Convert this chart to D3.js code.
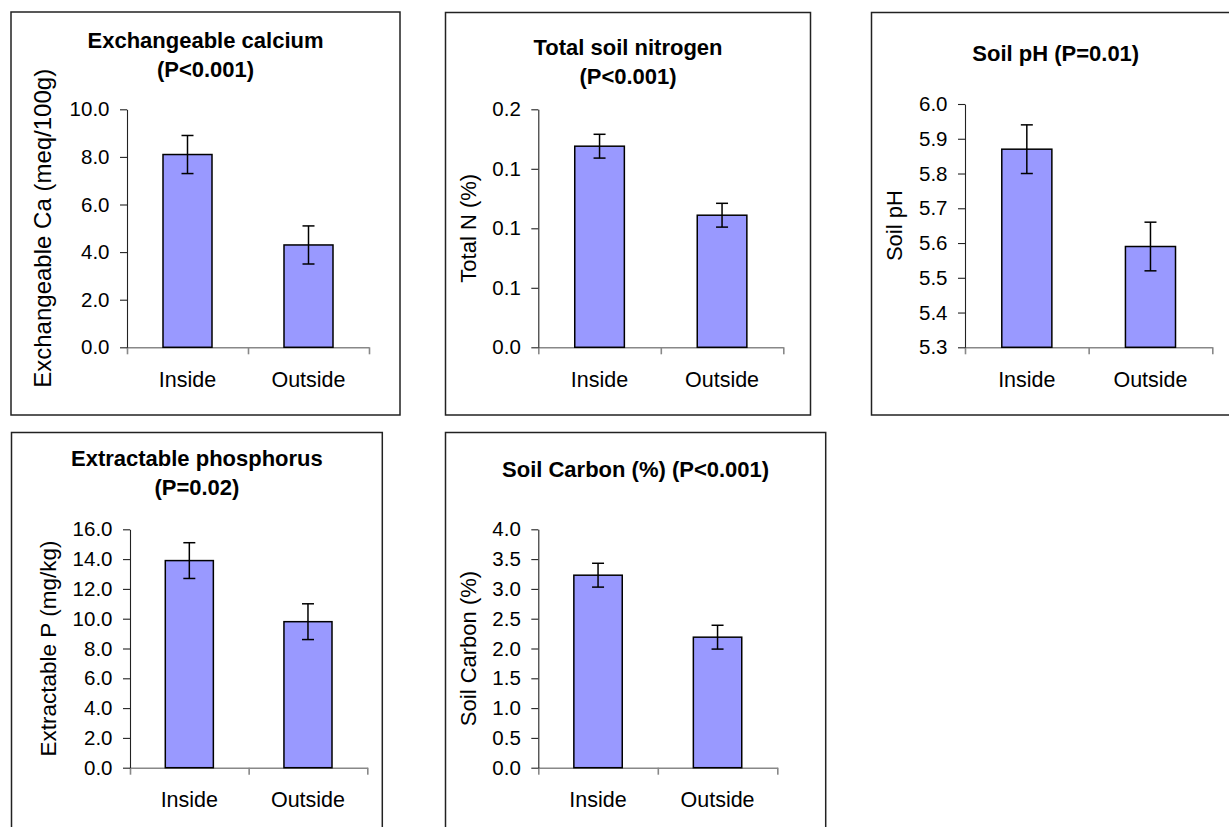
<!DOCTYPE html>
<html>
<head>
<meta charset="utf-8">
<script src="https://cdn.jsdelivr.net/npm/d3@7"></script>
<style>
  body { margin: 0; background: #fff; }
  svg text { font-family: "Liberation Sans", Arial, sans-serif; fill: #000; }
</style>
</head>
<body>
<div id="chart"></div>
<script>
// categories shared by every panel
const categories = ["Inside", "Outside"];

// Exchangeable calcium
const caTitle = ["Exchangeable calcium", "(P<0.001)"];
const caLabel = "Exchangeable Ca (meq/100g)";
const caMeans = [8.1, 4.3];
const caErrors = [0.8, 0.8];
const caTicks = [0, 2, 4, 6, 8, 10];

// Total soil nitrogen
const nTitle = ["Total soil nitrogen", "(P<0.001)"];
const nLabel = "Total N (%)";
const nMeans = [0.169, 0.111];
const nErrors = [0.01, 0.01];
const nTicks = [0, 0.05, 0.1, 0.15, 0.2];

// Soil pH
const phTitle = ["Soil pH (P=0.01)"];
const phLabel = "Soil pH";
const phMeans = [5.87, 5.59];
const phErrors = [0.07, 0.07];
const phTicks = [5.3, 5.4, 5.5, 5.6, 5.7, 5.8, 5.9, 6.0];

// Extractable phosphorus
const pTitle = ["Extractable phosphorus", "(P=0.02)"];
const pLabel = "Extractable P (mg/kg)";
const pMeans = [13.9, 9.8];
const pErrors = [1.2, 1.2];
const pTicks = [0, 2, 4, 6, 8, 10, 12, 14, 16];

// Soil carbon
const cTitle = ["Soil Carbon (%) (P<0.001)"];
const cLabel = "Soil Carbon (%)";
const cMeans = [3.23, 2.19];
const cErrors = [0.2, 0.2];
const cTicks = [0, 0.5, 1, 1.5, 2, 2.5, 3, 3.5, 4];

const width = 1229,
  height = 827;

const svg = d3
  .select("#chart")
  .append("svg")
  .attr("width", width)
  .attr("height", height);

// panel boxes: frame, plot area, title baselines, label positions
const panels = [
  { title: caTitle, label: caLabel, means: caMeans, errors: caErrors, ticks: caTicks, labelSize: 24,
    frame: [11, 12, 400, 415], plot: [127, 109.3, 369, 347.3], titleY: [48, 77], labelX: 51, catY: 387 },
  { title: nTitle, label: nLabel, means: nMeans, errors: nErrors, ticks: nTicks, labelSize: 22,
    frame: [445.5, 12.5, 810.5, 415], plot: [538.3, 109.3, 783.3, 347.3], titleY: [55, 84], labelX: 476, catY: 387 },
  { title: phTitle, label: phLabel, means: phMeans, errors: phErrors, ticks: phTicks, labelSize: 22,
    frame: [871.5, 12.5, 1240, 415], plot: [965, 104, 1212.3, 347.3], titleY: [60.5], labelX: 902, catY: 386.7 },
  { title: pTitle, label: pLabel, means: pMeans, errors: pErrors, ticks: pTicks, labelSize: 22.5,
    frame: [11.5, 432.5, 382.3, 840], plot: [130, 529.3, 367.3, 767.7], titleY: [466, 495], labelX: 55.5, catY: 806.7 },
  { title: cTitle, label: cLabel, means: cMeans, errors: cErrors, ticks: cTicks, labelSize: 22,
    frame: [445.5, 432.5, 825.7, 840], plot: [538.3, 529.3, 777.3, 767.7], titleY: [476.7], labelX: 476, catY: 806.7 }
];

panels.forEach((p) => drawPanel(svg, p));

function drawPanel(svg, p) {
  const [fx0, fy0, fx1, fy1] = p.frame;
  const [left, top, right, bottom] = p.plot;
  const g = svg.append("g");

  //frame
  g.append("rect")
    .attr("x", fx0)
    .attr("y", fy0)
    .attr("width", fx1 - fx0)
    .attr("height", fy1 - fy0)
    .attr("fill", "none")
    .attr("stroke", "#222")
    .attr("stroke-width", 1.5);

  //title
  g.selectAll(".title")
    .data(p.title)
    .enter()
    .append("text")
    .attr("x", (fx0 + fx1) / 2)
    .attr("y", (d, i) => p.titleY[i])
    .attr("text-anchor", "middle")
    .style("font-size", "22px")
    .style("font-weight", "bold")
    .text((d) => d);

  const y = d3
    .scaleLinear()
    .domain(d3.extent(p.ticks))
    .range([bottom, top]);

  const x = d3.scaleBand().domain(categories).range([left, right]);

  //edges for category ticks
  const xEdge = d3
    .scaleLinear()
    .domain([0, categories.length])
    .range([left, right]);

  //x axis line + ticks at category edges (grey)
  const xAxis = g
    .append("g")
    .attr("transform", `translate(0,${bottom})`)
    .call(
      d3.axisBottom(xEdge)
        .tickValues(d3.range(categories.length + 1))
        .tickFormat("")
        .tickSize(7)
        .tickSizeOuter(0)
    );
  xAxis.selectAll("path, line").attr("stroke", "#888").attr("stroke-width", 1.6);

  //y axis (dark)
  const yAxis = g
    .append("g")
    .attr("transform", `translate(${left},0)`)
    .call(
      d3.axisLeft(y)
        .tickValues(p.ticks)
        .tickFormat(d3.format(".1f"))
        .tickSize(7)
        .tickSizeOuter(0)
        .tickPadding(10.5)
    );
  yAxis.selectAll("path, line").attr("stroke", "#222").attr("stroke-width", 1.1);
  yAxis.selectAll("text").style("font-size", "20.5px").attr("fill", "#000");

  //category labels
  g.selectAll(".cat")
    .data(categories)
    .enter()
    .append("text")
    .attr("x", (d) => x(d) + x.bandwidth() / 2)
    .attr("y", p.catY)
    .attr("text-anchor", "middle")
    .style("font-size", "21.5px")
    .text((d) => d);

  //y label
  g.append("text")
    .attr("transform", `translate(${p.labelX},${(top + bottom) / 2}) rotate(-90)`)
    .attr("text-anchor", "middle")
    .style("font-size", p.labelSize + "px")
    .text(p.label);

  const barW = x.bandwidth() * 0.405;

  //bars
  g.selectAll(".bar")
    .data(categories)
    .enter()
    .append("rect")
    .attr("x", (d) => x(d) + (x.bandwidth() - barW) / 2)
    .attr("y", (d, i) => y(p.means[i]))
    .attr("width", barW)
    .attr("height", (d, i) => y.range()[0] - y(p.means[i]))
    .attr("fill", "#9999ff")
    .attr("stroke", "#000")
    .attr("stroke-width", 1.5);

  //error bars
  const cap = 6;
  const err = g
    .selectAll(".err")
    .data(categories)
    .enter()
    .append("g")
    .attr("stroke", "#000")
    .attr("stroke-width", 1.5);

  err.append("line")
    .attr("x1", (d) => x(d) + x.bandwidth() / 2)
    .attr("x2", (d) => x(d) + x.bandwidth() / 2)
    .attr("y1", (d, i) => y(p.means[i] + p.errors[i]))
    .attr("y2", (d, i) => y(p.means[i] - p.errors[i]));

  [1, -1].forEach((s) => {
    err.append("line")
      .attr("x1", (d) => x(d) + x.bandwidth() / 2 - cap)
      .attr("x2", (d) => x(d) + x.bandwidth() / 2 + cap)
      .attr("y1", (d, i) => y(p.means[i] + s * p.errors[i]))
      .attr("y2", (d, i) => y(p.means[i] + s * p.errors[i]));
  });
}
</script>
</body>
</html>
